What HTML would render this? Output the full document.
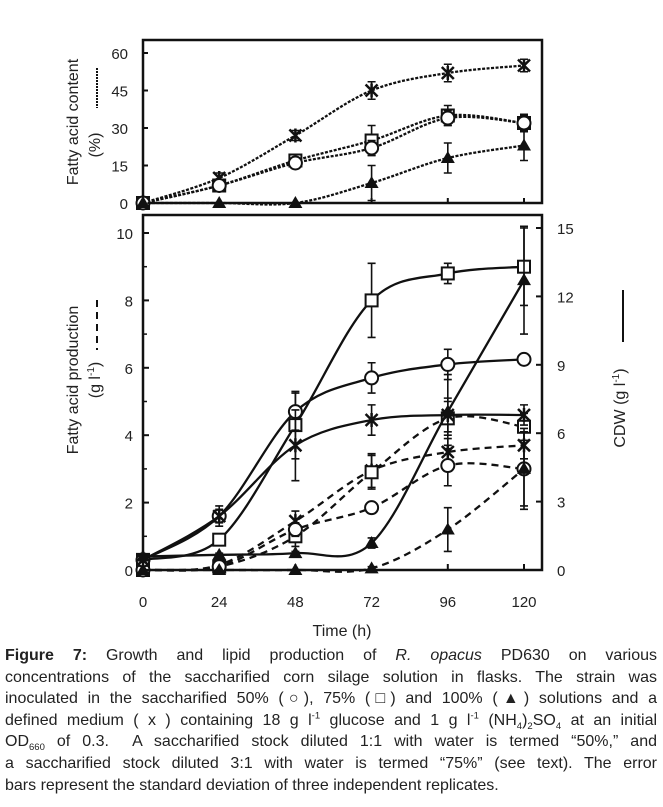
<!DOCTYPE html>
<html><head><meta charset="utf-8"><style>
body{margin:0;background:#fff;width:663px;height:807px;overflow:hidden;font-family:"Liberation Sans",sans-serif}
.cap{position:absolute;left:5px;top:645px;width:652px;font-size:16px;color:#222}
.cap div{height:21.6px;line-height:21.6px;text-align:justify;text-align-last:justify;white-space:nowrap}
.cap div.l{text-align-last:left}
.cap sup,.cap sub{font-size:9.5px;line-height:0}
svg{position:absolute;left:0;top:0}
</style></head><body>
<svg id="s" width="663" height="640" xmlns="http://www.w3.org/2000/svg" font-family="Liberation Sans, sans-serif" fill="#222">
</svg>
<div class="cap">
<div><b>Figure 7:</b> Growth and lipid production of <i>R. opacus</i> PD630 on various</div>
<div>concentrations of the saccharified corn silage solution in flasks. The strain was</div>
<div>inoculated in the saccharified 50% (○), 75% (□) and 100% (▲) solutions and a</div>
<div>defined medium ( x ) containing 18 g l<sup>-1</sup> glucose and 1 g l<sup>-1</sup> (NH<sub>4</sub>)<sub>2</sub>SO<sub>4</sub> at an initial</div>
<div>OD<sub>660</sub> of 0.3.&nbsp; A saccharified stock diluted 1:1 with water is termed “50%,” and</div>
<div>a saccharified stock diluted 3:1 with water is termed “75%” (see text). The error</div>
<div class="l">bars represent the standard deviation of three independent replicates.</div>
</div>
<script>
const s=document.getElementById('s');let h='';
const X=t=>143+t*3.175, YB=v=>570-v*33.7, YT=p=>203-p*2.5;
const T=[0,24,48,72,96,120];
function path(pts){let d='M'+pts[0][0]+','+pts[0][1];for(let i=0;i<pts.length-1;i++){const p0=pts[Math.max(0,i-1)],p1=pts[i],p2=pts[i+1],p3=pts[Math.min(pts.length-1,i+2)];const k=6;d+=` C${p1[0]+(p2[0]-p0[0])/k},${p1[1]+(p2[1]-p0[1])/k} ${p2[0]-(p3[0]-p1[0])/k},${p2[1]-(p3[1]-p1[1])/k} ${p2[0]},${p2[1]}`;}return d;}
function mark(type,x,y,fill){const f=fill?'#111':'#fff';
 if(type=='s')return `<rect x="${x-6}" y="${y-6}" width="12" height="12" fill="${f}" stroke="#111" stroke-width="2"/>`;
 if(type=='c')return `<circle cx="${x}" cy="${y}" r="6.5" fill="${f}" stroke="#111" stroke-width="2"/>`;
 if(type=='t')return `<polygon points="${x},${y-7} ${x-7},${y+5} ${x+7},${y+5}" fill="#111"/>`;
 return `<path d="M${x-6},${y-6}L${x+6},${y+6}M${x+6},${y-6}L${x-6},${y+6}M${x},${y-7}V${y+7}" stroke="#111" stroke-width="2.5"/>`;}
function series(vals,Y,type,dash,err){const pts=T.map((t,i)=>[X(t),Y(vals[i])]);
 h+=`<path d="${path(pts)}" fill="none" stroke="#111" stroke-width="2.3" ${dash?`stroke-dasharray="${dash}"`:''}/>`;
 pts.forEach((p,i)=>{const e=err?err[i]:0;if(e>0){const a=Y(vals[i]+e),b=Y(vals[i]-e);h+=`<path d="M${p[0]},${a}V${b}M${p[0]-4},${a}h8M${p[0]-4},${b}h8" stroke="#111" stroke-width="1.6"/>`;}});
 pts.forEach(p=>h+=mark(type,p[0],p[1],false));}
h+=`<rect x="143" y="40" width="399" height="163" fill="none" stroke="#111" stroke-width="2.5"/>`;
[0,15,30,45,60].forEach(v=>{h+=`<line x1="143" x2="148" y1="${YT(v)}" y2="${YT(v)}" stroke="#111" stroke-width="2"/><text x="128" y="${YT(v)+6}" font-size="15" text-anchor="end">${v}</text>`;});
T.forEach(t=>h+=`<line x1="${X(t)}" x2="${X(t)}" y1="203" y2="198" stroke="#111" stroke-width="2"/>`);
const dot='3,1.5';
series([0,10,27,45,52,55],YT,'x',dot,[0,2,2,3.5,3.5,2.5]);
series([0,7,17,25,35,32],YT,'s',dot,[0,2,2,6,4,3.5]);
series([0,7,16,22,34,32],YT,'c',dot,[0,1.5,1.5,3,3,3]);
series([0,0,0,8,18,23],YT,'t',dot,[0,0,0,7,6,6]);
h+=`<rect x="143" y="215" width="399" height="355" fill="none" stroke="#111" stroke-width="2.5"/>`;
[0,2,4,6,8,10].forEach(v=>{h+=`<line x1="143" x2="149" y1="${YB(v)}" y2="${YB(v)}" stroke="#111" stroke-width="2"/><text x="133" y="${YB(v)+6}" font-size="15" text-anchor="end">${v}</text>`;});
[1,3,5,7,9].forEach(v=>h+=`<line x1="143" x2="147" y1="${YB(v)}" y2="${YB(v)}" stroke="#111" stroke-width="1.5"/>`);
[0,3,6,9,12,15].forEach(v=>{const y=570-v*22.8;h+=`<line x1="542" x2="536" y1="${y}" y2="${y}" stroke="#111" stroke-width="2"/><text x="557" y="${y+6}" font-size="15">${v}</text>`;});
T.forEach(t=>{h+=`<line x1="${X(t)}" x2="${X(t)}" y1="570" y2="564" stroke="#111" stroke-width="2"/><text x="${X(t)}" y="607" font-size="15" text-anchor="middle">${t}</text>`;});
h+=`<text x="342" y="636" font-size="16" text-anchor="middle">Time (h)</text>`;
const dsh='7,5';
series([0,0.15,1.45,2.95,3.5,3.7],YB,'x',dsh,[0,0.1,0.3,0.5,0.4,0.4]);
series([0,0.1,1.0,2.9,4.5,4.25],YB,'s',dsh,[0,0.1,0.3,0.5,0.5,0.4]);
series([0,0.1,1.2,1.85,3.1,3.0],YB,'c',dsh,[0,0.05,0.2,0.1,0.6,1.2]);
series([0,0,0,0.05,1.2,3.0],YB,'t',dsh,[0,0,0,0.05,0.65,1.1]);
series([0.3,0.9,4.3,8.0,8.8,9.0],YB,'s','',[0,0.1,1.0,1.1,0.3,1.15]);
series([0.3,1.6,4.7,5.7,6.1,6.25],YB,'c','',[0,0.2,0.55,0.45,0.45,0]);
series([0.3,1.6,3.7,4.45,4.6,4.6],YB,'x','',[0,0.3,1.05,0.45,0.5,0.3]);
series([0.4,0.45,0.5,0.8,4.7,8.6],YB,'t','',[0,0.05,0.05,0.15,1.1,1.6]);
h+=`<text transform="translate(78,122) rotate(-90)" font-size="16" text-anchor="middle">Fatty acid content</text>`;
h+=`<text transform="translate(100,145) rotate(-90)" font-size="16" text-anchor="middle">(%)</text>`;
h+=`<line x1="97" x2="97" y1="68" y2="108" stroke="#111" stroke-width="2" stroke-dasharray="2,1"/>`;
h+=`<text transform="translate(78,380) rotate(-90)" font-size="16" text-anchor="middle">Fatty acid production</text>`;
h+=`<text transform="translate(100,380) rotate(-90)" font-size="16" text-anchor="middle">(g l<tspan font-size="10" dy="-6">-1</tspan><tspan dy="6">)</tspan></text>`;
h+=`<line x1="97" x2="97" y1="300" y2="350" stroke="#111" stroke-width="2" stroke-dasharray="7,5"/>`;
h+=`<text transform="translate(625,408) rotate(-90)" font-size="16" text-anchor="middle">CDW (g l<tspan font-size="10" dy="-6">-1</tspan><tspan dy="6">)</tspan></text>`;
h+=`<line x1="623" x2="623" y1="290" y2="342" stroke="#111" stroke-width="2"/>`;
s.innerHTML=h;
</script>
</body></html>
